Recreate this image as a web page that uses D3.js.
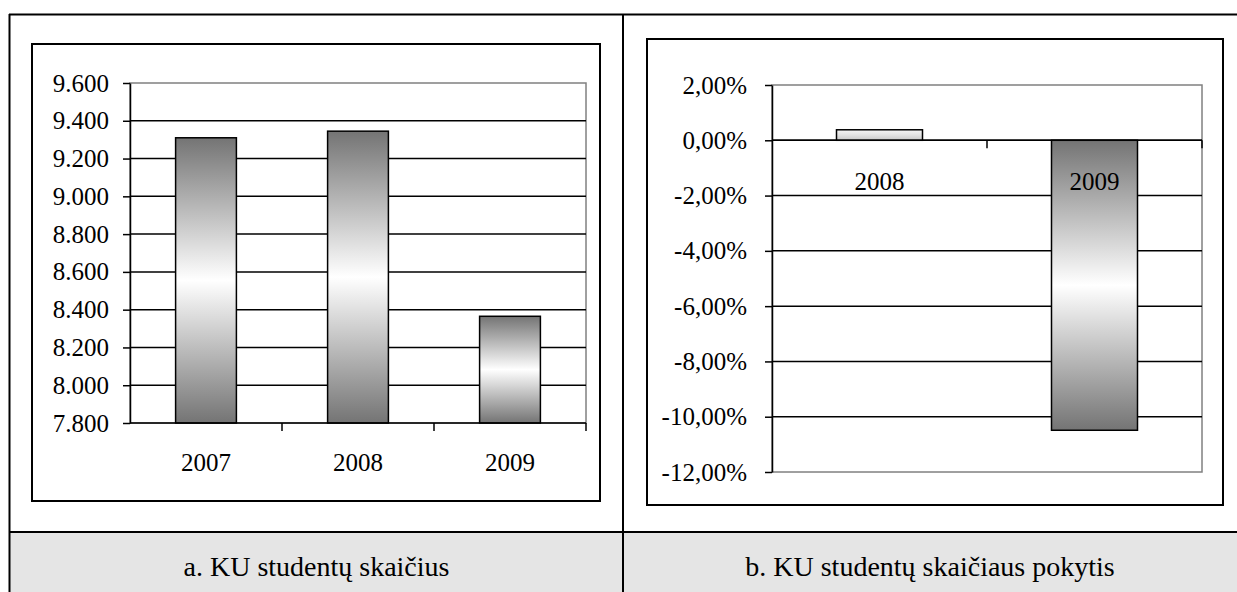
<!DOCTYPE html>
<html lang="lt">
<head>
<meta charset="utf-8">
<title>KU studentų skaičius</title>
<script src="https://cdn.jsdelivr.net/npm/d3@7"></script>
<style>
  html, body { margin: 0; padding: 0; background: #fff; }
  svg, svg text { font-family: "Liberation Serif", "Times New Roman", serif !important; }
</style>
</head>
<body>
<svg id="chart" width="1237" height="592"></svg>
<script>
// Student counts per year
const years = ["2007", "2008", "2009"];
const students = [9310, 9345, 8365];
const studentTicks = [7800, 8000, 8200, 8400, 8600, 8800, 9000, 9200, 9400, 9600];

// Year-on-year change, percent
const changeYears = ["2008", "2009"];
const changePct = [0.38, -10.49];
const changeTicks = [-12, -10, -8, -6, -4, -2, 0, 2];

// Panel captions
const captions = ["a. KU studentų skaičius", "b. KU studentų skaičiaus pokytis"];

const SERIF = '"Liberation Serif", "Times New Roman", serif';

const lt = d3.formatLocale({
  decimal: ",", thousands: ".", grouping: [3], currency: ["", " €"], minus: "-"
});
const fmtCount = lt.format(",d");
const fmtPct = v => lt.format(".2f")(v) + "%";

const svg = d3.select("#chart");
const defs = svg.append("defs");

// Cylinder-like vertical shading: dark edges, white centre
function addGradient(id, stops) {
  const g = defs.append("linearGradient").attr("id", id)
    .attr("x1", 0).attr("y1", 0).attr("x2", 0).attr("y2", 1);
  stops.forEach(([o, c]) => g.append("stop").attr("offset", o).attr("stop-color", c));
}
addGradient("shade", [[0, "#747474"], [0.5, "#ffffff"], [1, "#747474"]]);
addGradient("shadeLight", [[0, "#f6f6f6"], [0.5, "#e2e2e2"], [1, "#c8c8c8"]]);

// ---- Table frame ----
const W = 1237, H = 592;
const divX = 623, capY = 532;
svg.append("rect").attr("x", 10).attr("y", capY).attr("width", W - 10).attr("height", H - capY)
  .attr("fill", "#e5e5e5");
const frame = svg.append("g").attr("stroke", "#000").attr("stroke-width", 2);
frame.append("line").attr("x1", 9).attr("x2", W).attr("y1", 14.5).attr("y2", 14.5);
frame.append("line").attr("x1", 9.5).attr("x2", 9.5).attr("y1", 14).attr("y2", H);
frame.append("line").attr("x1", divX).attr("x2", divX).attr("y1", 14).attr("y2", H);
frame.append("line").attr("x1", 9).attr("x2", W).attr("y1", capY).attr("y2", capY);

svg.selectAll("text.caption").data(captions).join("text")
  .attr("class", "caption")
  .attr("x", (d, i) => i === 0 ? (10 + divX) / 2 : (divX + W) / 2)
  .attr("y", 576)
  .attr("text-anchor", "middle")
  .style("font-family", SERIF)
  .style("font-size", "28px")
  .attr("fill", "#000")
  .text(d => d);

// ---- Generic panel ----
function panel(opt) {
  const g = svg.append("g");
  // chart frame
  g.append("rect").attr("x", opt.box[0]).attr("y", opt.box[1])
    .attr("width", opt.box[2] - opt.box[0]).attr("height", opt.box[3] - opt.box[1])
    .attr("fill", "#fff").attr("stroke", "#000").attr("stroke-width", 2);

  const [L, T, R, B] = opt.plot;
  const x = d3.scaleBand().domain(opt.cats).range([L, R]).padding(0);
  const y = d3.scaleLinear().domain(opt.domain).range([B, T]);

  // plot-area border (grey)
  g.append("rect").attr("x", L).attr("y", T).attr("width", R - L).attr("height", B - T)
    .attr("fill", "none").attr("stroke", "#808080").attr("stroke-width", 1.5);

  // gridlines
  g.append("g").selectAll("line")
    .data(opt.ticks.filter(t => t !== opt.domain[1] && t !== opt.domain[0]))
    .join("line")
    .attr("x1", L).attr("x2", R)
    .attr("y1", d => y(d)).attr("y2", d => y(d))
    .attr("stroke", "#000").attr("stroke-width", 1.5);

  // bars
  const bw = x.bandwidth() * 0.4;
  g.append("g").selectAll("rect")
    .data(opt.values.map((v, i) => ({ c: opt.cats[i], v })))
    .join("rect")
    .attr("x", d => x(d.c) + (x.bandwidth() - bw) / 2)
    .attr("width", bw)
    .attr("y", d => y(Math.max(d.v, opt.base)))
    .attr("height", d => Math.abs(y(d.v) - y(opt.base)))
    .attr("fill", (d, i) => `url(#${opt.fills[i]})`)
    .attr("stroke", "#000").attr("stroke-width", 1.5);

  // value axis
  const ya = d3.axisLeft(y).tickValues(opt.ticks).tickFormat(opt.fmt)
    .tickSize(7).tickSizeOuter(0).tickPadding(opt.labelPad);
  const yg = g.append("g").attr("transform", `translate(${L},0)`).call(ya)
    .attr("font-family", null).attr("font-size", null);
  yg.select(".domain").attr("stroke", "#000").attr("stroke-width", 1.5);
  yg.selectAll(".tick line").attr("stroke", "#000").attr("stroke-width", 1.5);
  yg.selectAll(".tick text")
    .style("font-family", SERIF).style("font-size", "25px").attr("fill", "#000");

  // category axis
  const axisY = y(opt.base);
  g.append("line").attr("x1", L).attr("x2", R).attr("y1", axisY).attr("y2", axisY)
    .attr("stroke", "#000").attr("stroke-width", 1.5);
  const bounds = opt.cats.map(c => x(c) + x.bandwidth());
  g.append("g").selectAll("line").data(bounds).join("line")
    .attr("x1", d => d).attr("x2", d => d)
    .attr("y1", axisY).attr("y2", axisY + 8)
    .attr("stroke", "#000").attr("stroke-width", 1.5);
  g.append("g").selectAll("text").data(opt.cats).join("text")
    .attr("x", d => x(d) + x.bandwidth() / 2)
    .attr("y", axisY + opt.catDy)
    .attr("text-anchor", "middle")
    .style("font-family", SERIF).style("font-size", "25px")
    .attr("fill", "#000")
    .text(d => d);
}

panel({
  box: [32, 44, 600, 501],
  plot: [130, 83, 586, 423],
  cats: years, values: students,
  domain: [7800, 9600], base: 7800,
  ticks: studentTicks, fmt: fmtCount, labelPad: 14,
  fills: ["shade", "shade", "shade"],
  catDy: 48
});

panel({
  box: [647, 39, 1223, 505],
  plot: [772, 85, 1202, 472],
  cats: changeYears, values: changePct,
  domain: [-12, 2], base: 0,
  ticks: changeTicks, fmt: fmtPct, labelPad: 18,
  fills: ["shadeLight", "shade"],
  catDy: 50
});
</script>
</body>
</html>
